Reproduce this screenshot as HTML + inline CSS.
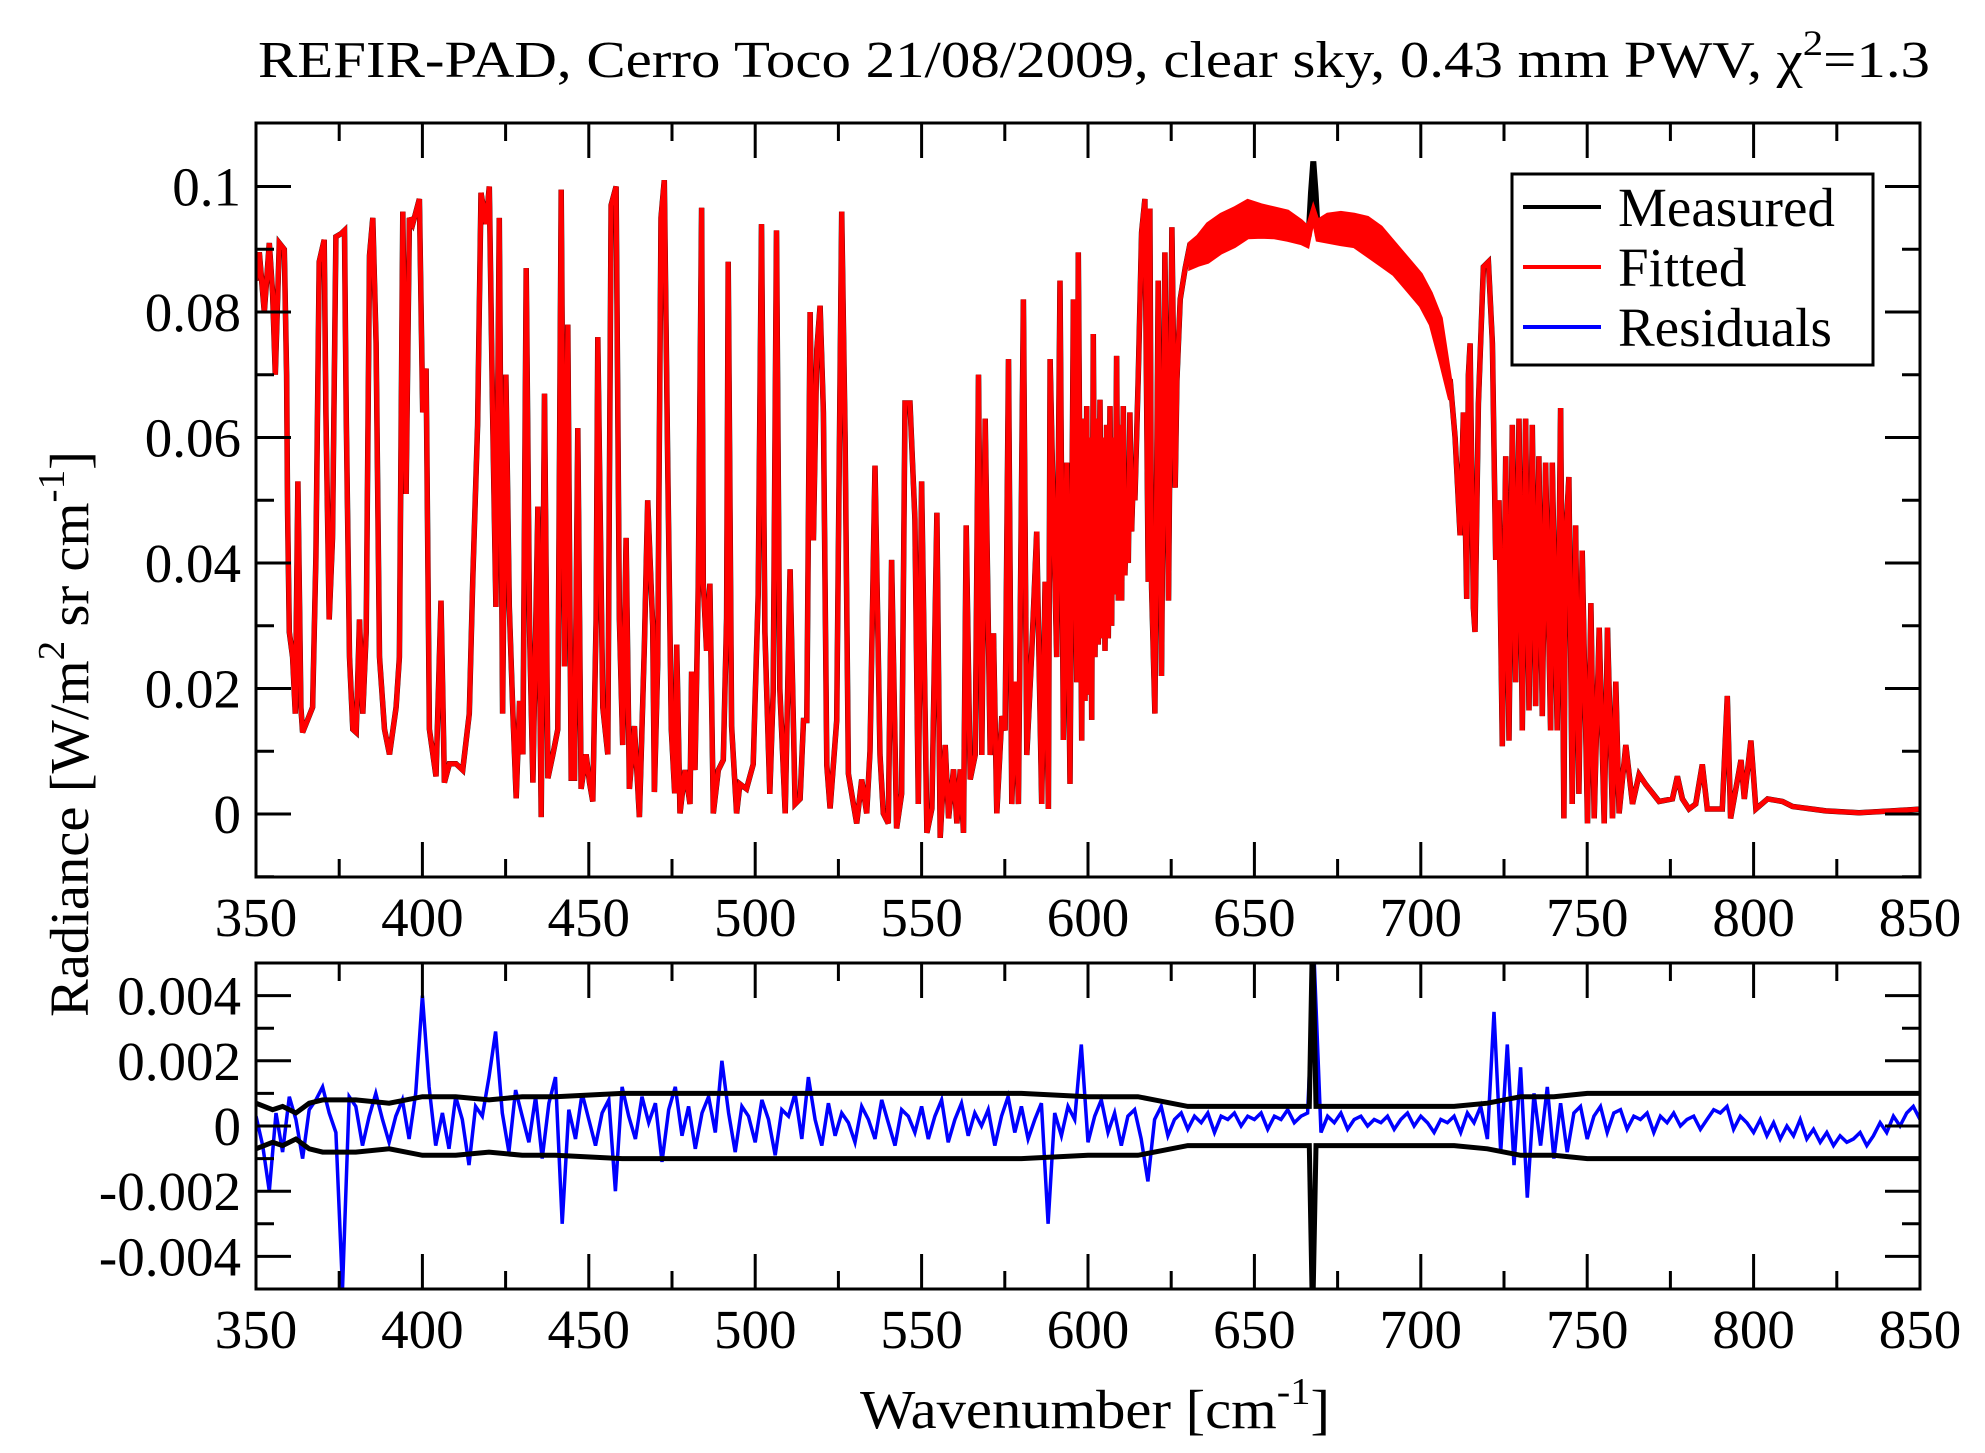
<!DOCTYPE html>
<html><head><meta charset="utf-8">
<style>
html,body{margin:0;padding:0;background:#fff;}
svg{display:block;font-family:"Liberation Serif",serif;}
</style></head>
<body>
<svg id="chart" width="1985" height="1453" viewBox="0 0 1985 1453" xmlns="http://www.w3.org/2000/svg">
<defs>
<clipPath id="clipTop"><rect x="256" y="123" width="1664" height="754"/></clipPath>
<clipPath id="clipBot"><rect x="256" y="963" width="1664" height="326"/></clipPath>
</defs>
<text x="1094" y="77" font-size="52" text-anchor="middle" textLength="1672" lengthAdjust="spacingAndGlyphs">REFIR-PAD, Cerro Toco 21/08/2009, clear sky, 0.43 mm PWV, χ<tspan dy="-22" font-size="36">2</tspan><tspan dy="22">=1.3</tspan></text>
<g id="topPlot"></g>
<g id="botPlot"></g>
<text transform="translate(88,734) rotate(-90)" font-size="55" text-anchor="middle" textLength="566" lengthAdjust="spacingAndGlyphs">Radiance [W/m<tspan dy="-24" font-size="38">2</tspan><tspan dy="24"> sr cm</tspan><tspan dy="-24" font-size="38">-1</tspan><tspan dy="24">]</tspan></text>
<text x="1095" y="1428" font-size="55" text-anchor="middle" textLength="470" lengthAdjust="spacingAndGlyphs">Wavenumber [cm<tspan dy="-24" font-size="38">-1</tspan><tspan dy="24">]</tspan></text>
<g>
<rect x="1512" y="174" width="361" height="191" fill="#fff" stroke="#000" stroke-width="3"/>
<line x1="1523" y1="207" x2="1601" y2="207" stroke="#000" stroke-width="4"/>
<text x="1618" y="226" font-size="55">Measured</text>
<line x1="1523" y1="267" x2="1601" y2="267" stroke="#ff0000" stroke-width="4"/>
<text x="1618" y="286" font-size="55">Fitted</text>
<line x1="1523" y1="327" x2="1601" y2="327" stroke="#0000ff" stroke-width="4"/>
<text x="1618" y="346" font-size="55">Residuals</text>
</g>
</svg>
<script>
// ---------- data ----------
const specWn = [350.0,351.0,352.5,354.0,355.0,355.8,357.0,358.5,359.2,359.5,360.0,361.0,361.8,362.6,363.5,364.0,365.5,367.0,368.0,369.0,370.5,371.0,372.0,373.0,374.0,375.6,376.6,377.1,378.1,379.1,380.1,381.1,382.1,383.1,384.1,385.1,386.1,387.1,388.6,390.1,392.1,393.1,394.1,395.1,396.1,397.1,399.1,400.1,401.1,402.1,404.1,405.6,406.6,408.1,410.1,412.1,414.1,415.1,416.6,417.6,419.1,420.1,421.1,422.1,423.1,424.1,425.1,426.1,427.2,428.2,429.2,430.2,431.2,432.2,433.2,434.7,435.7,436.7,437.7,439.2,440.7,441.7,442.7,443.7,444.7,445.7,446.7,447.7,449.2,450.2,451.2,452.2,452.7,454.2,455.7,456.7,458.2,459.2,460.2,461.2,462.2,463.7,465.2,466.7,467.7,469.2,469.7,470.7,471.7,472.7,473.7,474.8,475.8,
476.4,477.4,478.9,480.4,480.9,481.9,482.9,483.9,484.4,485.4,486.4,487.4,488.9,490.4,491.4,491.9,492.9,494.4,495.4,497.4,499.4,500.9,501.9,502.9,504.4,505.4,506.4,507.4,509.0,510.5,512.0,513.5,514.5,515.5,516.5,517.5,518.5,519.5,520.5,521.5,522.5,524.5,526.0,527.0,528.0,529.5,530.5,532.0,533.5,534.5,536.0,537.5,538.5,540.0,541.0,542.5,544.0,545.0,546.5,548.0,549.0,550.0,551.6,553.1,554.6,555.6,557.1,558.1,559.6,560.6,561.6,562.6,563.4,564.6,566.1,567.1,568.1,569.1,570.6,571.6,572.6,574.1,575.1,576.1,577.1,578.1,579.1,580.6,581.6,583.1,584.6,586.1,587.1,588.1,588.6,589.6,590.6,591.6,592.6,593.6,594.6,595.6,596.6,597.1,
598.1,598.6,599.1,599.6,600.1,600.6,601.1,601.6,602.1,602.6,603.1,603.6,604.1,604.6,605.1,605.6,606.1,606.6,607.1,607.6,608.1,608.6,609.1,609.6,610.1,610.6,611.1,611.6,612.1,612.6,613.1,613.6,614.1,615.1,616.1,617.1,618.1,618.6,619.1,620.1,621.1,622.1,623.1,624.2,625.2,626.2,626.7,627.7,629.2,630.7,
631.0,
708.8,710.3,711.8,712.8,713.8,714.3,714.8,715.8,716.3,717.3,718.8,720.3,721.5,722.5,723.5,724.5,725.5,726.5,727.5,728.5,729.5,730.5,731.5,732.5,733.5,734.5,735.5,736.5,737.5,739.0,739.5,741.0,742.0,743.0,743.5,744.5,745.5,746.5,747.5,748.5,750.1,751.1,752.1,753.6,755.1,756.1,757.6,758.6,759.6,761.6,763.6,765.6,767.6,771.6,775.6,777.1,778.6,780.6,782.6,784.6,786.1,790.6,792.1,793.1,796.2,797.2,799.2,800.7,804.2,808.7,811.7,821.7,831.7,841.7,850.8];
const specRad = [0.085,0.0895,0.080,0.091,0.083,0.070,0.091,0.090,0.070,0.048,0.029,0.025,0.016,0.053,0.017,0.013,0.015,0.017,0.041,0.088,0.0915,0.064,0.031,0.044,0.092,0.0925,0.093,0.064,0.025,0.0135,0.013,0.031,0.016,0.029,0.089,0.095,0.075,0.025,0.0135,0.0095,0.017,0.025,0.096,0.051,0.095,0.094,0.098,0.064,0.071,0.0135,0.006,0.034,0.005,0.008,0.008,0.007,0.016,0.037,0.062,0.099,0.094,0.100,0.064,0.033,0.095,0.016,0.070,0.033,0.016,0.0025,0.018,0.0095,0.087,0.029,0.005,0.049,-0.0005,0.067,0.0057,0.0095,0.0135,0.0995,0.0235,0.078,0.0057,0.0057,0.0615,0.004,0.0095,0.005,0.002,0.031,0.076,0.017,0.0095,0.097,0.100,0.031,0.011,0.044,0.004,0.014,-0.0005,0.027,0.050,0.030,0.0035,0.024,0.095,0.101,0.056,0.0135,0.0033,
0.027,0.0001,0.007,0.0016,0.0227,0.007,0.0367,0.0966,0.0367,0.026,0.0367,0.0001,0.007,0.0086,0.0312,0.088,0.014,0.0001,0.0048,0.004,0.0079,0.035,0.094,0.029,0.0032,0.0195,0.093,0.020,0.0001,0.039,0.0016,0.0024,0.0149,0.0149,0.080,0.0436,0.074,0.081,0.064,0.0078,0.0009,0.0149,0.096,0.060,0.0064,0.0016,-0.0015,0.0055,0.0001,0.010,0.0555,0.0094,0.0001,-0.0015,0.0405,-0.0023,0.0032,0.0655,0.0655,0.047,0.0016,0.053,-0.003,0.0009,0.048,-0.0038,0.011,-0.0007,0.0071,-0.0015,0.0071,-0.003,0.046,0.0055,0.0094,0.070,0.0094,0.063,0.0094,0.0288,0.0001,0.0156,0.0133,0.0725,0.0016,0.0211,0.0016,0.082,0.0094,0.026,0.045,0.0016,0.037,0.0008,0.0725,0.048,0.025,0.085,0.0118,0.056,0.0048,0.082,0.021,0.0895,
0.0117,0.063,0.018,0.065,0.019,0.060,0.015,0.0765,0.025,0.063,0.027,0.066,0.028,0.060,0.026,0.062,0.028,0.065,0.030,0.060,0.035,0.073,0.034,0.062,0.034,0.065,0.038,0.050,0.040,0.064,0.045,0.054,0.050,0.070,0.0927,0.098,0.037,0.0965,0.036,0.016,0.085,0.022,0.0895,0.034,0.0935,0.052,0.069,0.082,0.087,0.091,
null,
0.0693,0.060,0.0444,0.064,0.0343,0.070,0.075,0.0328,0.029,0.0654,0.0872,0.088,0.075,0.0405,0.050,0.0108,0.057,0.0117,0.062,0.021,0.063,0.0133,0.063,0.0165,0.062,0.0172,0.057,0.0156,0.056,0.0133,0.056,0.0133,0.0647,-0.0007,0.044,0.0537,0.0016,0.046,0.0032,0.042,-0.0015,0.0336,-0.0007,0.0297,-0.0015,0.0297,-0.0007,0.0211,0.0001,0.011,0.0016,0.0063,0.0047,0.002,0.0024,0.006,0.0024,0.0008,0.0016,0.0079,0.0008,0.0008,0.0188,-0.0007,0.0086,0.0024,0.0117,0.0008,0.0024,0.002,0.0012,0.0005,0.0002,0.0005,0.0008];
// CO2 band centre (fine structure shown as envelope)
const bandWn = [630.7,633,636,640,644,648,652,656,660,664,666,667.7,669,672,676,680,684,688,692,696,700,703,706,708.8];
const bandHi = [0.091,0.092,0.094,0.0955,0.0965,0.0977,0.097,0.0965,0.096,0.0945,0.0935,0.0966,0.0945,0.0955,0.0958,0.0955,0.095,0.0935,0.091,0.0885,0.086,0.083,0.079,0.0693];
const bandLo = [0.087,0.0875,0.088,0.0895,0.0905,0.0919,0.092,0.0919,0.0915,0.091,0.0905,0.095,0.0915,0.0912,0.0908,0.0905,0.089,0.0875,0.086,0.0835,0.081,0.078,0.072,0.066];
const measuredPeakWn = [666.3,667.0,667.7,668.4,669.1];
const measuredPeakRad = [0.092,0.099,0.104,0.099,0.092];
// residuals, 2 cm^-1 grid starting at 350
const resStart = 350, resStep = 2;
const residuals = [0.0003,-0.0006,-0.002,0.0004,-0.0008,0.0009,0.0002,-0.001,0.0005,0.0008,
0.0012,0.0004,-0.0002,-0.005,0.0009,0.0006,-0.0006,0.0003,0.0010,0.0002,
-0.0005,0.0003,0.0008,-0.0004,0.0010,0.0040,0.0012,-0.0006,0.0004,-0.0007,
0.0009,0.0002,-0.0012,0.0006,0.0003,0.0015,0.0029,0.0004,-0.0008,0.0011,
0.0003,-0.0005,0.0009,-0.0010,0.0007,0.0015,-0.0030,0.0005,-0.0004,0.0010,
0.0002,-0.0006,0.0004,0.0008,-0.0020,0.0012,0.0003,-0.0004,0.0009,0.0001,
0.0007,-0.0011,0.0005,0.0012,-0.0003,0.0006,-0.0007,0.0004,0.0009,-0.0002,
0.0020,0.0004,-0.0008,0.0006,0.0003,-0.0005,0.0008,0.0002,-0.0009,0.0005,
0.0003,0.0010,-0.0004,0.0015,0.0002,-0.0006,0.0007,-0.0003,0.0004,0.0001,
-0.0005,0.0006,0.0002,-0.0004,0.0008,0.0001,-0.0006,0.0005,0.0003,-0.0002,
0.0006,-0.0004,0.0003,0.0008,-0.0005,0.0002,0.0007,-0.0003,0.0004,0.0000,
0.0005,-0.0006,0.0003,0.0009,-0.0002,0.0006,-0.0004,0.0002,0.0007,-0.0030,
0.0004,-0.0003,0.0006,0.0002,0.0025,-0.0005,0.0003,0.0008,-0.0002,0.0004,
-0.0006,0.0003,0.0005,-0.0004,-0.0017,0.0002,0.0006,-0.0003,0.0002,0.0004,
-0.0001,0.0003,0.0001,0.0004,-0.0002,0.0003,0.0002,0.0004,0.0000,0.0003,
0.0002,0.0004,-0.0001,0.0003,0.0002,0.0005,0.0001,0.0003,0.0004,0.0050,
-0.0002,0.0003,0.0001,0.0004,-0.0001,0.0002,0.0003,0.0000,0.0002,0.0001,
0.0003,-0.0001,0.0002,0.0004,0.0000,0.0003,0.0001,-0.0002,0.0002,0.0001,
0.0003,-0.0002,0.0004,0.0001,0.0006,-0.0004,0.0035,-0.0008,0.0025,-0.0012,
0.0018,-0.0022,0.0010,-0.0006,0.0012,-0.0010,0.0007,-0.0008,0.0004,0.0006,
-0.0004,0.0003,0.0006,-0.0002,0.0004,0.0005,-0.0001,0.0003,0.0002,0.0004,
-0.0002,0.0003,0.0001,0.0004,0.0000,0.0002,0.0003,-0.0001,0.0002,0.0005,
0.0004,0.0006,-0.0001,0.0003,0.0001,-0.0002,0.0002,-0.0003,0.0001,-0.0004,
0.0000,-0.0003,0.0002,-0.0004,-0.0001,-0.0005,-0.0002,-0.0006,-0.0003,-0.0005,
-0.0004,-0.0002,-0.0006,-0.0003,0.0001,-0.0002,0.0003,0.0000,0.0004,0.0006,
0.0002];
const boundWn = [350,355,358,362,366,370,380,390,400,410,420,430,440,460,480,500,520,540,560,580,600,615,620,625,630,640,660,666.5,667.5,668.5,670,690,710,720,730,740,750,760,800,850];
const boundVal = [0.0007,0.0005,0.0006,0.0004,0.0007,0.0008,0.0008,0.0007,0.0009,0.0009,0.0008,0.0009,0.0009,0.001,0.001,0.001,0.001,0.001,0.001,0.001,0.0009,0.0009,0.0008,0.0007,0.0006,0.0006,0.0006,0.0006,0.006,0.0006,0.0006,0.0006,0.0006,0.0007,0.0009,0.0009,0.001,0.001,0.001,0.001];
const xTicks = [350,400,450,500,550,600,650,700,750,800,850];
const topYTicks = [0,0.02,0.04,0.06,0.08,0.1];
const topYTickLabels = ["0","0.02","0.04","0.06","0.08","0.1"];
const botYTicks = [-0.004,-0.002,0,0.002,0.004];
const botYTickLabels = ["-0.004","-0.002","0","0.002","0.004"];

// ---------- scales ----------
const X0=256, X1=1920;
const xs = w => X0 + (w-350)*(X1-X0)/500;
const TT=123, TB=877, yT = v => 814 - v*6275;
const BT=963, BB=1289, yB = v => 1126 - v*32600;
const NS="http://www.w3.org/2000/svg";
function mk(tag, parent, attrs){const e=document.createElementNS(NS,tag);for(const k in attrs)e.setAttribute(k,attrs[k]);parent.appendChild(e);return e;}

function pathFrom(wn, val, ys){
  let d="", pen=false;
  for(let i=0;i<wn.length;i++){
    if(val[i]===null){pen=false;continue;}
    d += (pen?"L":"M")+xs(wn[i]).toFixed(1)+","+ys(val[i]).toFixed(1);
    pen=true;
  }
  return d;
}

function axes(g, top, bot, yfun, yMajor, yLabels, yMinor, name){
  const frame = mk("rect", g, {x:X0,y:top,width:X1-X0,height:bot-top,fill:"none",stroke:"#000","stroke-width":3});
  
  
  for(let w=350; w<=850; w+=25){
    const L = (w%50===0)?35:18;
    const t1 = mk("line", g, {x1:xs(w),x2:xs(w),y1:bot,y2:bot-L,stroke:"#000","stroke-width":3});
    
    
    const t2 = mk("line", g, {x1:xs(w),x2:xs(w),y1:top,y2:top+L,stroke:"#000","stroke-width":3});
    
    
  }
  xTicks.forEach(w=>{
    const t = mk("text", g, {x:xs(w),y:bot+59,"font-size":55,"text-anchor":"middle"});
    t.textContent = String(w);
    
    
  });
  yMinor.forEach(v=>{
    [[X0,X0+18],[X1,X1-18]].forEach(p=>{
      const t = mk("line", g, {x1:p[0],x2:p[1],y1:yfun(v),y2:yfun(v),stroke:"#000","stroke-width":3});
      
      
    });
  });
  yMajor.forEach((v,i)=>{
    [[X0,X0+35],[X1,X1-35]].forEach(p=>{
      const t = mk("line", g, {x1:p[0],x2:p[1],y1:yfun(v),y2:yfun(v),stroke:"#000","stroke-width":3});
      
      
    });
    const l = mk("text", g, {x:241,y:yfun(v)+19,"font-size":55,"text-anchor":"end"});
    l.textContent = yLabels[i];
    
    
  });
}

// ---------- top panel ----------
const gT = document.getElementById("topPlot");
const cT = mk("g", gT, {"clip-path":"url(#clipTop)"});
const meas = mk("path", cT, {d:pathFrom(specWn,specRad,yT),fill:"none",stroke:"#000","stroke-width":5.5,"stroke-linejoin":"miter"});


const mpk = mk("path", cT, {d:pathFrom(measuredPeakWn,measuredPeakRad,yT),fill:"none",stroke:"#000","stroke-width":6});


let bd = "";
bandWn.forEach((w,i)=>{bd += (i?"L":"M")+xs(w).toFixed(1)+","+yT(bandHi[i]).toFixed(1);});
for(let i=bandWn.length-1;i>=0;i--){bd += "L"+xs(bandWn[i]).toFixed(1)+","+yT(bandLo[i]).toFixed(1);}
bd += "Z";
const band = mk("path", cT, {d:bd,fill:"#ff0000",stroke:"#ff0000","stroke-width":4});


const fit = mk("path", cT, {d:pathFrom(specWn,specRad,yT),fill:"none",stroke:"#ff0000","stroke-width":5,"stroke-linejoin":"miter"});


axes(gT, TT, TB, yT, topYTicks, topYTickLabels, [-0.01,0.01,0.03,0.05,0.07,0.09], "top");

// ---------- bottom panel ----------
const gB = document.getElementById("botPlot");
const cB = mk("g", gB, {"clip-path":"url(#clipBot)"});
const resWn = residuals.map((_,i)=>resStart+i*resStep);
const rp = mk("path", cB, {d:pathFrom(resWn,residuals,yB),fill:"none",stroke:"#0000ff","stroke-width":3.5});


const bu = mk("path", cB, {d:pathFrom(boundWn,boundVal,yB),fill:"none",stroke:"#000","stroke-width":5});


const bl = mk("path", cB, {d:pathFrom(boundWn,boundVal.map(v=>-v),yB),fill:"none",stroke:"#000","stroke-width":5});


axes(gB, BT, BB, yB, botYTicks, botYTickLabels, [-0.005,-0.003,-0.001,0.001,0.003,0.005], "bottom");
</script>
</body></html>
